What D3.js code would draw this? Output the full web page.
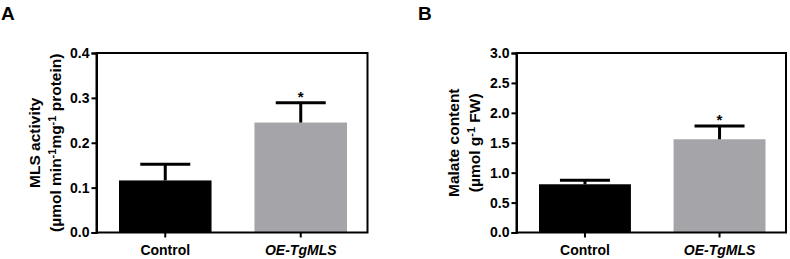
<!DOCTYPE html>
<html><head><meta charset="utf-8">
<script src="https://cdn.jsdelivr.net/npm/d3@7"></script>
<style>body{margin:0;background:#fff}svg{display:block}text{font-family:"Liberation Sans",Arial,sans-serif;font-weight:bold}</style>
</head><body>
<svg id="c" width="790" height="259"></svg>
<script>
const categories = ["Control", "OE-TgMLS"];
const mlsMean = [0.116, 0.245];
const mlsErr = [0.036, 0.044];
const malateMean = [0.806, 1.558];
const malateErr = [0.066, 0.222];
const mlsTicks = [0.0, 0.1, 0.2, 0.3, 0.4];
const malateTicks = [0.0, 0.5, 1.0, 1.5, 2.0, 2.5, 3.0];
const colors = ["#000000", "#a4a4a9"];

const svg = d3.select("#c");

function panel(opt) {
  const g = svg.append("g");
  const x = d3.scaleBand().domain(categories).range([opt.left + 22.5, opt.right - 20.5]).paddingInner(0.317).paddingOuter(0);
  const y = d3.scaleLinear().domain([0, opt.max]).range([232.5, 53]);
  g.selectAll("rect.bar").data(categories).join("rect")
    .attr("x", d => x(d)).attr("width", x.bandwidth())
    .attr("y", (d, i) => y(opt.mean[i])).attr("height", (d, i) => y(0) - y(opt.mean[i]))
    .attr("fill", (d, i) => colors[i]);
  const cap = 25;
  categories.forEach((d, i) => {
    const cx = x(d) + x.bandwidth() / 2;
    g.append("line").attr("x1", cx).attr("x2", cx).attr("y1", y(opt.mean[i])).attr("y2", y(opt.mean[i] + opt.err[i]))
      .attr("stroke", "#000").attr("stroke-width", 3);
    g.append("line").attr("x1", cx - cap).attr("x2", cx + cap).attr("y1", y(opt.mean[i] + opt.err[i])).attr("y2", y(opt.mean[i] + opt.err[i]))
      .attr("stroke", "#000").attr("stroke-width", 3);
  });
  const cx2 = x(categories[1]) + x.bandwidth() / 2;
  g.append("text").attr("x", cx2).attr("y", y(opt.mean[1] + opt.err[1]) - 1).attr("text-anchor", "middle")
    .attr("font-size", 15).text("*");
  g.append("rect").attr("x", opt.left).attr("y", y(opt.max)).attr("width", opt.right - opt.left).attr("height", y(0) - y(opt.max))
    .attr("fill", "none").attr("stroke", "#000").attr("stroke-width", 2);
  const ya = g.append("g").attr("transform", `translate(${opt.left},0)`)
    .call(d3.axisLeft(y).tickValues(opt.ticks).tickFormat(d3.format(".1f")).tickSize(5).tickPadding(2));
  ya.select(".domain").attr("stroke-width", 2);
  ya.selectAll(".tick line").attr("stroke-width", 2);
  ya.selectAll(".tick text").attr("font-size", 14).attr("fill", "#000").attr("font-family", "Liberation Sans, Arial, sans-serif").attr("font-weight", "bold");
  const xa = g.append("g").attr("transform", `translate(0,${y(0)})`)
    .call(d3.axisBottom(x).tickSize(5).tickPadding(8));
  xa.select(".domain").remove();
  xa.selectAll(".tick line").attr("stroke-width", 2);
  xa.selectAll(".tick text").attr("font-size", 14).attr("fill", "#000").attr("font-family", "Liberation Sans, Arial, sans-serif").attr("font-weight", "bold")
    .attr("font-style", (d, i) => i === 1 ? "italic" : "normal");
  const yc = (y(0) + y(opt.max)) / 2;
  const lab = g.append("text").attr("transform", `translate(${opt.labX},${yc}) rotate(-90)`).attr("text-anchor", "middle").attr("font-size", 15.5);
  lab.append("tspan").attr("x", 0).attr("y", 0).text(opt.line1);
  const l2 = lab.append("tspan").attr("x", 0).attr("y", 21);
  opt.line2.forEach(p => {
    if (p.sup) l2.append("tspan").attr("dy", -5).attr("font-size", 11).text(p.t);
    else l2.append("tspan").attr("dy", p.after ? 5 : 0).text(p.t);
  });
  g.append("text").attr("x", opt.letterX).attr("y", 20).attr("font-size", 19).text(opt.letter);
}

panel({
  left: 96.5, right: 367.5, max: 0.4, mean: mlsMean, err: mlsErr, ticks: mlsTicks, letter: "A", letterX: 1, labX: 39.5,
  line1: "MLS activity",
  line2: [{t: "(µmol min"}, {t: "-1", sup: true}, {t: "mg", after: true}, {t: "-1", sup: true}, {t: " protein)", after: true}]
});
panel({
  left: 516.5, right: 786, max: 3.0, mean: malateMean, err: malateErr, ticks: malateTicks, letter: "B", letterX: 418, labX: 458.5,
  line1: "Malate content",
  line2: [{t: "(µmol g"}, {t: "-1", sup: true}, {t: " FW)", after: true}]
});
</script>
</body></html>
